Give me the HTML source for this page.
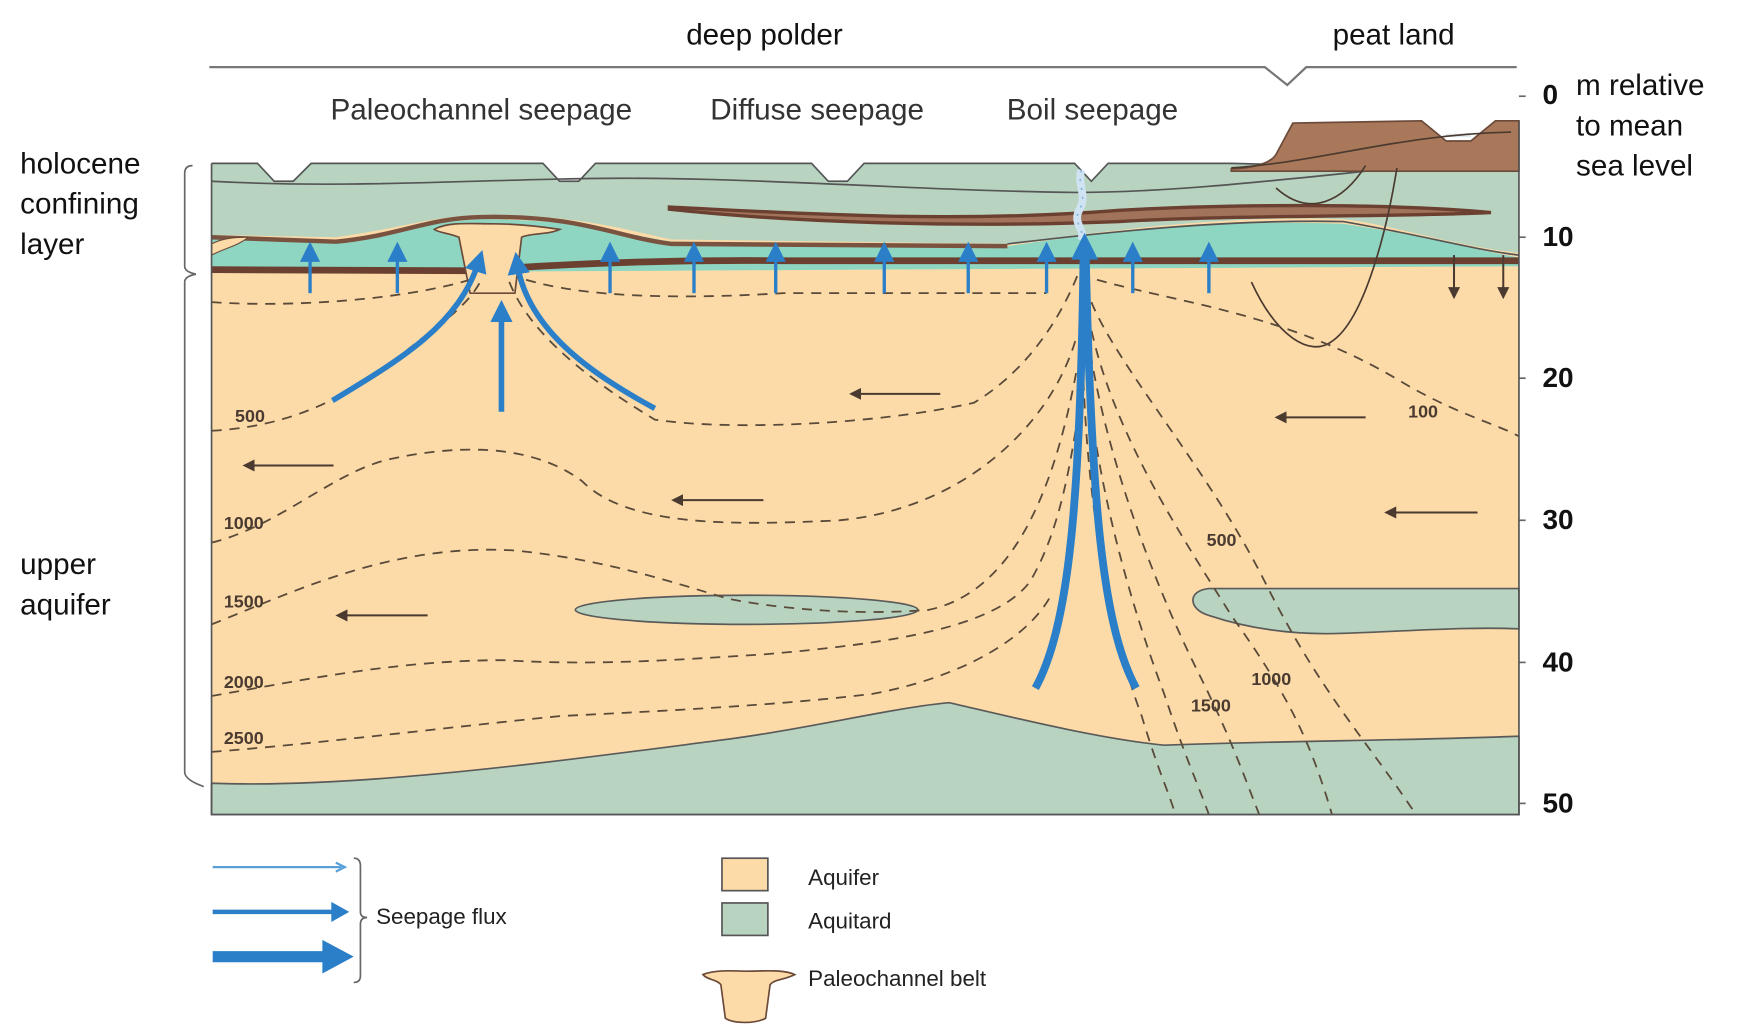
<!DOCTYPE html>
<html><head><meta charset="utf-8"><style>
html,body{margin:0;padding:0;background:#fff;}
svg{display:block;}
text{font-family:"Liberation Sans",sans-serif;}
</style></head><body>
<svg width="1754" height="1035" viewBox="0 0 1567 925" preserveAspectRatio="none" xmlns="http://www.w3.org/2000/svg">
<defs>
<marker id="ah" markerWidth="4" markerHeight="4" refX="2" refY="2" orient="auto" markerUnits="strokeWidth"><path d="M0,0 L4,2 L0,4 z" fill="#2a7fc8"/></marker>
<marker id="ahs" markerWidth="6" markerHeight="6" refX="3" refY="3" orient="auto" markerUnits="strokeWidth"><path d="M0,0 L6,3 L0,6 z" fill="#2a7fc8"/></marker>
<marker id="ak" markerWidth="6" markerHeight="6" refX="3" refY="3" orient="auto" markerUnits="strokeWidth"><path d="M0,0 L6,3 L0,6 z" fill="#4a3a30"/></marker>
</defs>
<rect width="1567" height="925" fill="#fff"/>
<path d="M187,60 L1130,60 L1150,76 L1167,60 L1355,60" fill="none" stroke="#777" stroke-width="2"/>
<text x="683" y="40" font-size="26.5" text-anchor="middle" fill="#111">deep polder</text>
<text x="1245" y="40" font-size="26.5" text-anchor="middle" fill="#111">peat land</text>
<text x="430" y="107" font-size="26.5" text-anchor="middle" fill="#333">Paleochannel seepage</text>
<text x="730" y="107" font-size="26.5" text-anchor="middle" fill="#333">Diffuse seepage</text>
<text x="976" y="107" font-size="26.5" text-anchor="middle" fill="#333">Boil seepage</text>
<g font-size="26.5" fill="#111">
<text x="18" y="155">holocene</text><text x="18" y="191">confining</text><text x="18" y="227">layer</text>
<text x="18" y="513">upper</text><text x="18" y="549">aquifer</text>
<text x="1408" y="85">m relative</text><text x="1408" y="121">to mean</text><text x="1408" y="157">sea level</text>
</g>
<g font-size="25" font-weight="bold" fill="#111">
<text x="1378" y="93">0</text><text x="1378" y="220">10</text><text x="1378" y="346">20</text><text x="1378" y="473">30</text><text x="1378" y="600">40</text><text x="1378" y="726">50</text>
</g>
<g stroke="#666" stroke-width="1.5"><line x1="1357" y1="86" x2="1363" y2="86"/><line x1="1357" y1="212" x2="1363" y2="212"/><line x1="1357" y1="338" x2="1363" y2="338"/><line x1="1357" y1="465" x2="1363" y2="465"/><line x1="1357" y1="592" x2="1363" y2="592"/><line x1="1357" y1="718" x2="1363" y2="718"/></g>
<path d="M172,148 Q165,148 165,155 L165,238 Q165,243 175,245 Q165,247 165,252 L165,690 Q165,697 182,703" fill="none" stroke="#666" stroke-width="1.5"/>
<rect x="189" y="190" width="1168" height="538" fill="#fddba8"/>
<path d="M189,700 C320,705 500,680 640,662 C720,652 800,632 848,628 C900,640 980,660 1040,666 C1150,662 1250,662 1357,658 L1357,728 L189,728 Z" fill="#b8d4c0" stroke="#5a5a5a" stroke-width="1.5"/>
<ellipse cx="667" cy="545" rx="153" ry="13" fill="#b8d4c0" stroke="#5a5a5a" stroke-width="1.5"/>
<path d="M1357,526 L1080,526 C1060,528 1062,545 1080,550 C1110,560 1150,568 1200,566 C1260,564 1310,560 1357,562 Z" fill="#b8d4c0" stroke="#5a5a5a" stroke-width="1.5"/>
<path d="M189,212 L300,215 C360,208 380,198 430,196 C520,196 560,210 600,216 L900,220 C1000,205 1100,196 1200,200 C1280,212 1330,226 1357,230 L1357,238 L189,244 Z" fill="#8ed6c2"/>
<path d="M189,146 L230,146 L245,162 L262,162 L278,146 L485,146 L500,162 L517,162 L532,146 L725,146 L740,162 L757,162 L772,146 L960,146 L975,162 L990,146 L1100,146 L1357,152 L1357,226 C1300,220 1240,200 1200,196 C1100,192 1000,205 900,218 L600,214 C560,206 520,192 430,192 C380,194 360,204 300,212 L189,210 Z" fill="#b8d4c0"/>
<path d="M189,162 C300,168 400,162 500,160 C650,156 800,170 960,172 C1050,172 1150,160 1250,150 L1357,152" fill="none" stroke="#555" stroke-width="1.5"/>
<path d="M189,146 L230,146 L245,162 L262,162 L278,146 L485,146 L500,162 L517,162 L532,146 L725,146 L740,162 L757,162 L772,146 L960,146 L975,162 L990,146 L1100,146 L1357,152" fill="none" stroke="#555" stroke-width="1.5"/>
<path d="M900,218 C1000,206 1100,196 1200,198 C1270,210 1320,224 1357,228" fill="none" stroke="#555" stroke-width="1.5"/>
<path d="M189,212 L300,216 C360,210 380,195 430,194 C520,192 550,212 600,218 L900,220" fill="none" stroke="#7a5240" stroke-width="4"/>
<path d="M189,241 L420,242 C500,236 600,232 700,233 L1357,233" fill="none" stroke="#6b4030" stroke-width="6"/>
<path d="M598,185 C700,190 850,200 1000,188 C1100,182 1250,182 1332,190 C1250,194 1100,192 1000,198 C850,204 700,198 598,187 Z" fill="#a0735a" stroke="#6b4030" stroke-width="3"/>
<path d="M1100,151 C1120,150 1135,146 1140,138 L1155,110 L1270,108 L1292,126 L1314,126 L1336,108 L1357,108 L1357,153 L1100,153 Z" fill="#a9785a" stroke="#6b4a3a" stroke-width="1.5"/>
<path d="M1292,121 L1314,121" stroke="#dfe8ee" stroke-width="3"/>
<path d="M1100,150 C1180,145 1250,120 1350,118" fill="none" stroke="#4a3a30" stroke-width="1.5"/>
<path d="M1140,168 C1170,195 1200,180 1220,148" fill="none" stroke="#4a3a30" stroke-width="1.5"/>
<path d="M1118,252 C1140,300 1170,320 1190,305 C1220,285 1240,200 1248,150" fill="none" stroke="#4a3a30" stroke-width="1.5"/>
<path d="M388,205 C400,198 420,200 440,200 C460,200 480,202 500,205 C490,210 475,208 466,212 L460,262 L420,262 L410,212 C400,208 392,208 388,205 Z" fill="#fddba8" stroke="#6b4a3a" stroke-width="1.5"/>
<path d="M189,218 C200,212 215,212 222,212 C212,220 200,222 189,228 Z" fill="#fddba8" stroke="#6b4a3a" stroke-width="1"/>
<path d="M966,152 C962,165 972,175 964,188 C958,200 970,205 966,215" fill="none" stroke="#cfe3f2" stroke-width="7"/>
<path d="M966,152 C962,165 972,175 964,188 C958,200 970,205 966,215" fill="none" stroke="#8bb7dc" stroke-width="1.5" stroke-dasharray="2,6"/>
<g fill="none" stroke="#5a4a3a" stroke-width="1.6" stroke-dasharray="9,7">
<path d="M189,270 C260,275 360,268 420,250"/>
<path d="M470,250 C520,265 600,268 700,262 L935,262"/>
<path d="M189,385 C280,380 330,340 380,300 C400,285 420,270 430,250"/>
<path d="M455,252 C470,290 510,330 585,375 C650,385 780,380 870,360 C920,330 950,280 965,240"/>
<path d="M189,485 C250,470 300,420 350,410 C420,395 480,400 520,430 C560,470 650,470 750,465 C860,455 940,380 962,300"/>
<path d="M189,558 C260,530 350,485 460,492 C540,500 600,520 650,535 C700,545 770,550 830,545 C900,530 940,450 962,330"/>
<path d="M189,622 C260,610 350,590 450,590 C530,595 600,590 680,585 C800,575 890,560 920,520 C950,470 958,400 965,360"/>
<path d="M189,672 C280,665 400,650 500,640 C600,635 700,630 780,620 C860,605 920,570 940,530"/>
<path d="M980,250 C1050,270 1150,280 1250,340 C1300,370 1340,380 1357,390"/>
<path d="M975,270 C1000,330 1080,420 1130,520 C1180,620 1220,660 1265,728"/>
<path d="M972,280 C990,380 1050,470 1100,550 C1150,620 1170,660 1190,728"/>
<path d="M972,300 C985,400 1030,520 1070,600 C1100,660 1110,690 1125,728"/>
<path d="M970,320 C978,430 1010,540 1040,620 C1060,680 1070,700 1080,728"/>
<path d="M968,340 C972,450 990,560 1020,640 C1035,690 1045,710 1050,728"/>
</g>
<g font-size="16" font-weight="bold" fill="#4a3a30">
<text x="210" y="377">500</text><text x="200" y="473">1000</text><text x="200" y="543">1500</text><text x="200" y="615">2000</text><text x="200" y="665">2500</text>
<text x="1258" y="373">100</text><text x="1078" y="488">500</text><text x="1118" y="612">1000</text><text x="1064" y="636">1500</text>
</g>
<g stroke="#4a3a30" stroke-width="1.8" marker-end="url(#ak)">
<line x1="298" y1="416" x2="222" y2="416"/><line x1="840" y1="352" x2="764" y2="352"/><line x1="682" y1="447" x2="605" y2="447"/>
<line x1="382" y1="550" x2="305" y2="550"/><line x1="1220" y1="373" x2="1144" y2="373"/><line x1="1320" y1="458" x2="1242" y2="458"/>
<line x1="1299" y1="228" x2="1299" y2="262"/><line x1="1343" y1="228" x2="1343" y2="262"/>
</g>
<g stroke="#2a7fc8" stroke-width="3" marker-end="url(#ahs)">
<line x1="277" y1="262" x2="277" y2="225"/><line x1="355" y1="262" x2="355" y2="225"/><line x1="545" y1="262" x2="545" y2="225"/>
<line x1="620" y1="262" x2="620" y2="225"/><line x1="693" y1="262" x2="693" y2="225"/><line x1="790" y1="262" x2="790" y2="225"/>
<line x1="865" y1="262" x2="865" y2="225"/><line x1="935" y1="262" x2="935" y2="225"/><line x1="1012" y1="262" x2="1012" y2="225"/>
<line x1="1080" y1="262" x2="1080" y2="225"/>
</g>
<g fill="none" stroke="#2a7fc8" stroke-width="5" marker-end="url(#ah)">
<path d="M297,358 C360,320 410,290 428,233"/>
<path d="M585,365 C520,330 470,290 462,235"/>
<path d="M448,368 L448,278"/>
</g>
<g fill="none" stroke="#2a7fc8" stroke-width="7">
<path d="M925,615 C955,560 965,450 968,230"/>
<path d="M1015,615 C985,560 975,450 970,230"/>
</g>
<path d="M957,232 L969,208 L981,232 Z" fill="#2a7fc8"/>
<path d="M189,146 L189,728 L1357,728 L1357,108" fill="none" stroke="#555" stroke-width="1.5"/>
<line x1="190" y1="775" x2="305" y2="775" stroke="#5aa0d8" stroke-width="2"/>
<path d="M300,771 L308,775 L300,779" fill="none" stroke="#5aa0d8" stroke-width="2"/>
<line x1="190" y1="815" x2="300" y2="815" stroke="#2a7fc8" stroke-width="4"/>
<path d="M296,806 L312,815 L296,824 Z" fill="#2a7fc8"/>
<line x1="190" y1="855" x2="293" y2="855" stroke="#2a7fc8" stroke-width="10"/>
<path d="M288,840 L316,855 L288,870 Z" fill="#2a7fc8"/>
<path d="M316,767 Q322,767 322,774 L322,815 Q322,820 328,820 Q322,820 322,826 L322,872 Q322,878 316,878" fill="none" stroke="#666" stroke-width="1.5"/>
<text x="336" y="826" font-size="20" fill="#222">Seepage flux</text>
<rect x="645" y="767" width="41" height="29" fill="#fddba8" stroke="#555" stroke-width="1.5"/>
<rect x="645" y="807" width="41" height="29" fill="#b8d4c0" stroke="#555" stroke-width="1.5"/>
<text x="722" y="791" font-size="20" fill="#222">Aquifer</text>
<text x="722" y="830" font-size="20" fill="#222">Aquitard</text>
<path d="M628,871 C640,866 660,868 668,868 C680,868 700,866 710,871 C700,876 692,875 688,880 L684,910 C675,915 655,915 648,910 L644,880 C640,875 632,876 628,871 Z" fill="#fddba8" stroke="#6b4a3a" stroke-width="1.5"/>
<text x="722" y="881" font-size="20" fill="#222">Paleochannel belt</text>
</svg>
</body></html>
